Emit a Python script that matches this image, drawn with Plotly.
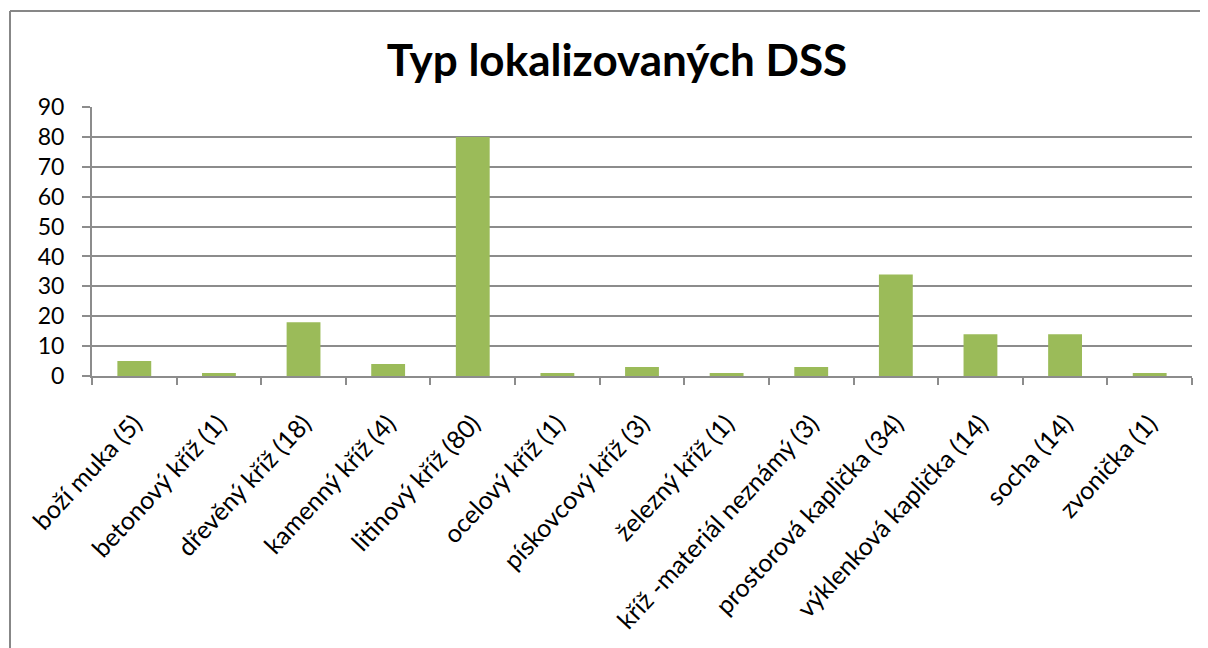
import plotly.graph_objects as go

# data
types = ["boží muka", "betonový kříž", "dřevěný kříž", "kamenný kříž",
         "litinový kříž", "ocelový kříž", "pískovcový kříž", "železný kříž",
         "kříž -materiál neznámý", "prostorová kaplička", "výklenková kaplička",
         "socha", "zvonička"]
counts = [5, 1, 18, 4, 80, 1, 3, 1, 3, 34, 14, 14, 1]
labels = [f"{t} ({c})" for t, c in zip(types, counts)]

# page has an 8px body margin, so the figure is a bit smaller than the window
W, H = 1200, 640
ml, mr, mt, mb = 84, 16, 99, 272
pw, ph = W - ml - mr, H - mt - mb

fig = go.Figure()
fig.add_trace(go.Bar(
    x=labels,
    y=counts,
    marker=dict(color="#9BBB59", line=dict(width=0)),
    width=0.4,
))

grid = "#8C8C8C"
font = "Lato, Calibri, 'Noto Sans', sans-serif"

# outer chart border (left + top)
bx = (2 - ml) / pw
by = 1 + (mt - 3) / ph
fig.add_shape(type="line", xref="paper", yref="paper",
              x0=bx, x1=bx, y0=-(mb + 10) / ph, y1=by,
              line=dict(color="#878787", width=2))
fig.add_shape(type="line", xref="paper", yref="paper",
              x0=bx, x1=(W - ml + 10) / pw, y0=by, y1=by,
              line=dict(color="#878787", width=2))

fig.update_layout(
    width=W, height=H,
    margin=dict(l=ml, r=mr, t=mt, b=mb, autoexpand=False),
    paper_bgcolor="white",
    plot_bgcolor="white",
    showlegend=False,
    font=dict(family=font, size=22, color="black"),
    title=dict(text="<b>Typ lokalizovaných DSS</b>", x=609 / W, xanchor="center",
               y=1 - 53 / H, yanchor="middle",
               font=dict(family=font, size=44, color="black")),
    xaxis=dict(
        type="category",
        showline=True, linecolor=grid, linewidth=2,
        ticks="outside", tickson="boundaries", ticklen=7, tickcolor=grid, tickwidth=2,
        tickangle=-47, showgrid=False,
        tickfont=dict(size=25),
        ticklabelstandoff=21,
    ),
    yaxis=dict(
        range=[0, 90], dtick=10,
        showline=True, linecolor=grid, linewidth=2,
        ticks="outside", ticklen=8, tickcolor=grid, tickwidth=2,
        showgrid=True, gridcolor=grid, gridwidth=2,
        zeroline=False,
        tickfont=dict(size=23),
        ticklabelstandoff=13,
    ),
)

fig.write_html("out.html")
